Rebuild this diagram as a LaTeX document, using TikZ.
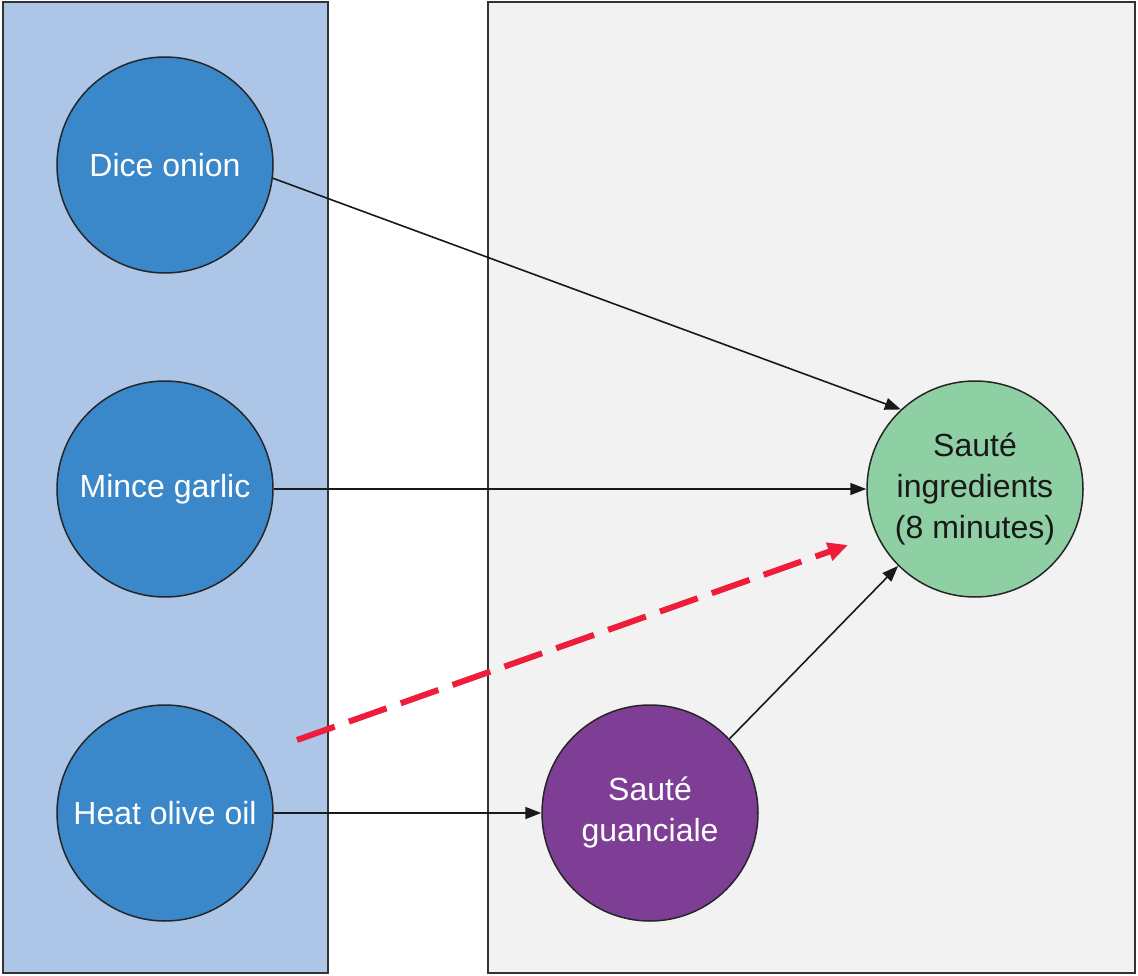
\documentclass[tikz,border=0pt]{standalone}
\usepackage{fontspec}
\setmainfont{Liberation Sans}
\usetikzlibrary{arrows.meta}
\definecolor{panelblue}{HTML}{ADC6E8}
\definecolor{panelgray}{HTML}{F2F2F2}
\definecolor{taskblue}{HTML}{3A88C9}
\definecolor{taskgreen}{HTML}{8ECFA3}
\definecolor{taskpurple}{HTML}{7E3E96}
\definecolor{redarrow}{HTML}{EE1D3A}
\begin{document}
\begin{tikzpicture}[x=1pt,y=-1pt,
  panel/.style={draw=black!80, line width=2pt},
  task/.style={circle, draw=black!85, line width=1.5pt, minimum size=216pt, inner sep=0pt,
    align=center, font=\fontsize{32}{41}\selectfont},
  bluetask/.style={task, fill=taskblue, text=white},
  greentask/.style={task, fill=taskgreen, text=black!90},
  purpletask/.style={task, fill=taskpurple, text=white},
  conn/.style={draw=black!90, line width=1.6pt, -{Triangle[length=16pt,width=12pt]}},
  redconn/.style={draw=redarrow, line width=6pt, dash pattern=on 40pt off 15pt,
    -{Triangle[length=20pt,width=18pt]}}]
\useasboundingbox (0,0) rectangle (1138,976);
\draw[panel, fill=panelblue] (3,2) rectangle (328,973);
\draw[panel, fill=panelgray] (488,2) rectangle (1135,973);
\node[bluetask] (dice) at (165,165) {Dice onion};
\node[bluetask] (garlic) at (165,489) {\raisebox{-3pt}{Mince garlic}};
\node[bluetask] (oil) at (165,813) {Heat olive oil};
\node[greentask] (saute) at (975,489) {\raisebox{-2pt}{Sauté}\\\raisebox{-2pt}{ingredients}\\\raisebox{-2pt}{(8 minutes)}};
\node[purpletask] (guanc) at (650,813) {Sauté\\guanciale};
\draw[conn] (dice.-7) -- (saute.133);
\draw[conn] (garlic.east) -- (saute.west);
\draw[conn] (oil.east) -- (guanc.west);
\draw[conn] (guanc.43) -- (saute.225);
\coordinate (rstart) at (297,740);
\coordinate (rend) at (848,545);
\draw[redconn] (rstart) -- (rend);
\end{tikzpicture}
\end{document}
